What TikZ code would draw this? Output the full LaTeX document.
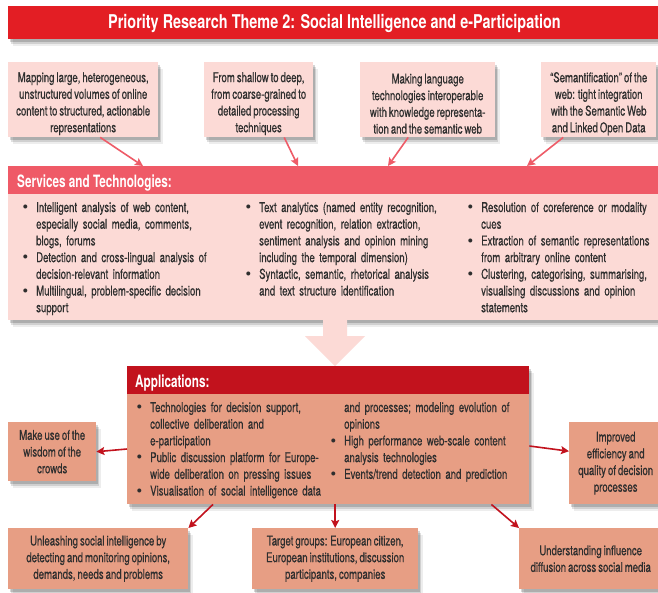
\documentclass[tikz,border=0pt]{standalone}
\usepackage{fontspec}
\setmainfont{TeX Gyre Heros}[FakeStretch=0.71,FakeBold=0.6,WordSpace=0.75]
\newfontfamily\titlefont{TeX Gyre Heros}[FakeStretch=0.76]
\newfontfamily\hdrfont{TeX Gyre Heros}[FakeStretch=0.69]
\newfontfamily\bulfont{TeX Gyre Heros}
\usetikzlibrary{shadows,arrows.meta}
\definecolor{titlered}{HTML}{E31E24}
\definecolor{lightpink}{HTML}{FCDAD6}
\definecolor{svchead}{HTML}{EF5A67}
\definecolor{toparr}{HTML}{EE5C68}
\definecolor{apphead}{HTML}{C2121D}
\definecolor{salmon}{HTML}{E79E84}
\definecolor{txt}{HTML}{2E2E2E}
\newcommand\bodyfont{\fontsize{13.5}{16.7}\selectfont}
\newcommand\bulmark{\makebox[14pt][l]{\hspace{0.5pt}\raisebox{-0.6pt}{\bulfont\fontsize{16}{16}\selectfont\textbullet}}}
\newcommand\fitem{\noindent\hangindent=14pt\hangafter=1\bulmark}
\newcommand\bitem{\par\noindent\hangindent=14pt\hangafter=1\bulmark}
\newcommand\contpar{\noindent\hangindent=14pt\hangafter=0 }
\tikzset{
  myshadow/.style={
    drop shadow={shadow xshift=1.5pt,shadow yshift=-2.5pt,opacity=0.16,fill=black},
    drop shadow={shadow xshift=3pt,shadow yshift=-4.5pt,opacity=0.12,fill=black},
    drop shadow={shadow xshift=4.5pt,shadow yshift=-6.5pt,opacity=0.07,fill=black}},
  panel/.style={rectangle, inner sep=0pt, anchor=north west},
  topbox/.style={panel, fill=lightpink, myshadow, minimum height=75pt},
  appbox/.style={panel, fill=salmon, myshadow, text=txt, font=\bodyfont, align=center},
  boxtext/.style={inner sep=0pt, text=txt, font=\bodyfont, align=center},
  coltext/.style={inner sep=0pt, text=txt, font=\bodyfont, align=left, anchor=base west},
  hdrtext/.style={inner sep=0pt, text=white, font=\hdrfont\bfseries\fontsize{17}{20}\selectfont, anchor=base west},
  toparrow/.style={draw=toparr, line width=1.6pt, -{Stealth[length=8pt,width=8pt,inset=1.5pt]}},
  redarrow/.style={draw=apphead, line width=1.6pt, -{Stealth[length=8pt,width=8pt,inset=1.5pt]}}
}
\begin{document}
\begin{tikzpicture}[x=1pt,y=-1pt]
\useasboundingbox[fill=white] (0,0) rectangle (658,592);

% title
\node[panel, fill=titlered, myshadow, minimum width=652pt, minimum height=33pt] (title) at (8,6) {};
\node[inner sep=0pt, text=white, font=\titlefont\bfseries\fontsize{19}{22}\selectfont, anchor=base] (titlex) at (334.5,28) {Priority Research Theme 2: Social Intelligence and e-Participation};

% top boxes
\node[topbox, minimum width=150pt] (t1) at (8,62) {};
\node[boxtext] (t1x) at ([yshift=-4pt]t1.center) {Mapping large, heterogeneous,\\unstructured volumes of online\\content to structured, actionable\\representations};
\node[topbox, minimum width=109pt] (t2) at (204,62) {};
\node[boxtext] (t2x) at ([yshift=-4pt]t2.center) {From shallow to deep,\\from coarse-grained to\\detailed processing\\techniques};
\node[topbox, minimum width=135pt] (t3) at (360,62) {};
\node[boxtext] (t3x) at ([yshift=-4pt]t3.center) {Making language\\technologies interoperable\\with knowledge representa-\\tion and the semantic web};
\node[topbox, minimum width=115pt] (t4) at (541,62) {};
\node[boxtext] (t4x) at ([yshift=-4pt]t4.center) {“Semantification” of the\\web: tight integration\\with the Semantic Web\\and Linked Open Data};

% services
\node[panel, fill=svchead, minimum width=652pt, minimum height=28pt] (sh) at (8,166) {};
\node[panel, fill=lightpink, myshadow, minimum width=652pt, minimum height=126pt] (sb) at (8,194) {};
\node[hdrtext] (shx) at (17,187) {Services and Technologies:};

\node[coltext, text width=210pt] (s1) at (22,212) {\fitem Intelligent analysis of web content,\newline especially social media, comments,\newline blogs, forums
\bitem Detection and cross-lingual analysis of\newline decision-relevant information
\bitem Multilingual, problem-specific decision\newline support\par};
\node[coltext, text width=205pt] (s2) at (245,212) {\fitem Text analytics (named entity recognition,\newline event recognition, relation extraction,\newline sentiment analysis and opinion mining\newline including the temporal dimension)
\bitem Syntactic, semantic, rhetorical analysis\newline and text structure identification\par};
\node[coltext, text width=190pt] (s3) at (467,212) {\fitem Resolution of coreference or modality\newline cues
\bitem Extraction of semantic representations\newline from arbitrary online content
\bitem Clustering, categorising, summarising,\newline visualising discussions and opinion\newline statements\par};

% big arrow
\fill[lightpink] (323,318) -- (347,318) -- (347,336) -- (365,336) -- (335,366) -- (305,336) -- (323,336) -- cycle;

% applications
\node[panel, fill=apphead, myshadow, minimum width=402pt, minimum height=28pt] (ah) at (127,366) {};
\node[panel, fill=salmon, myshadow, minimum width=402pt, minimum height=110pt] (ab) at (127,394) {};
\node[hdrtext] (ahx) at (135,387) {Applications:};
\node[coltext, text width=195pt] (a1) at (136,412) {\fitem Technologies for decision support,\newline collective deliberation and\newline e-participation
\bitem Public discussion platform for Europe-\newline wide deliberation on pressing issues
\bitem Visualisation of social intelligence data\par};
\node[coltext, text width=190pt] (a2) at (330,412) {\contpar and processes; modeling evolution of\newline opinions
\bitem High performance web-scale content\newline analysis technologies
\bitem Events/trend detection and prediction\par};

% side and bottom boxes
\node[appbox, minimum width=88pt, minimum height=59pt] (lw) at (8,422) {Make use of the\\wisdom of the\\crowds};
\node[appbox, minimum width=93pt, minimum height=82pt] (ri) at (569,422) {Improved\\efficiency and\\quality of decision\\processes};
\node[appbox, minimum width=180pt, minimum height=61pt] (bl) at (8,528) {Unleashing social intelligence by\\detecting and monitoring opinions,\\demands, needs and problems};
\node[appbox, minimum width=166pt, minimum height=61pt] (bm) at (252,528) {Target groups: European citizen,\\European institutions, discussion\\participants, companies};
\node[appbox, minimum width=143pt, minimum height=61pt] (br) at (519,528) {Understanding influence\\diffusion across social media};

% connectors
\draw[toparrow] ([xshift=17pt]t1.south) -- ([xshift=135pt]sh.north west);
\draw[toparrow] ([xshift=25.5pt]t2.south) -- ([xshift=290pt]sh.north west);
\draw[toparrow] ([xshift=-19.5pt]t3.south) -- ([xshift=380pt]sh.north west);
\draw[toparrow] ([xshift=-35.5pt]t4.south) -- ([xshift=519pt]sh.north west);

\draw[redarrow] ([yshift=-55pt]ab.north west) -- (lw.east);
\draw[redarrow] ([yshift=-52pt]ab.north east) -- ([yshift=12pt]ri.west);
\draw[redarrow] ([xshift=86pt]ab.south west) -- (bl.north east);
\draw[redarrow] ([xshift=7pt]ab.south) -- (bm.north);
\draw[redarrow] ([xshift=-38pt]ab.south east) -- (br.north west);
\end{tikzpicture}
\end{document}
